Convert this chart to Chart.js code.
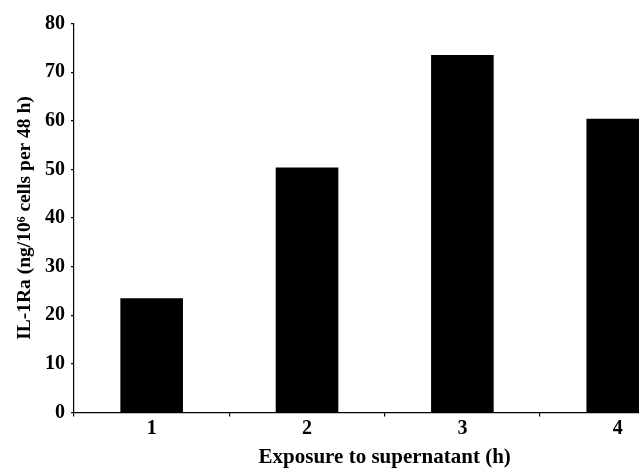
<!DOCTYPE html>
<html>
<head>
<meta charset="utf-8">
<script src="https://cdn.jsdelivr.net/npm/chart.js@4"></script>
<style>
  html, body { margin: 0; padding: 0; background: #fff; overflow: hidden; }
  #chart { display: block; }
</style>
</head>
<body>
<canvas id="chart" width="700" height="470"></canvas>
<script>
// data
const hours = ['1', '2', '3', '4'];
const il1ra = [23.5, 50.4, 73.5, 60.4];
const yTicks = [0, 10, 20, 30, 40, 50, 60, 70, 80];

const serif = "'Liberation Serif', 'Times New Roman', serif";

document.addEventListener('DOMContentLoaded', function() {
    const ctx = document.getElementById('chart');
    new Chart(ctx, {
        type: 'bar',
        data: {
            labels: hours,
            datasets: [{
                data: il1ra,
                backgroundColor: '#000',
                borderWidth: 0,
                barPercentage: 0.403,
                categoryPercentage: 1
            }]
        },
        options: {
            responsive: false,
            animation: false,
            layout: { padding: { top: 23.5, right: 4.6, left: 0, bottom: 0 } },
            plugins: { legend: { display: false }, tooltip: { enabled: false } },
            scales: {
                x: {
                    grid: { drawOnChartArea: false, drawTicks: true, tickLength: 4, color: '#000', lineWidth: 1.2 },
                    border: { display: true, color: '#000', width: 1.2 },
                    ticks: { color: '#000', padding: 0, font: { family: serif, size: 20, weight: 'bold' } },
                    title: {
                        display: true, text: 'Exposure to supernatant (h)', color: '#000',
                        padding: { top: 2, bottom: 0 },
                        font: { family: serif, size: 21, weight: 'bold' }
                    },
                    afterFit: function(scale) { scale.height = 57.5; }
                },
                y: {
                    min: 0, max: 80,
                    afterBuildTicks: function(scale) { scale.ticks = yTicks.map(v => ({ value: v })); },
                    grid: { drawOnChartArea: false, drawTicks: true, tickLength: 3, color: '#000', lineWidth: 1.2 },
                    border: { display: true, color: '#000', width: 1.2 },
                    ticks: { color: '#000', padding: 6, font: { family: serif, size: 20, weight: 'bold' } },
                    title: {
                        display: true, text: 'IL-1Ra (ng/10\u2076 cells per 48 h)', color: '#000',
                        padding: { top: 13, bottom: 0 },
                        font: { family: serif, size: 19.5, weight: 'bold' }
                    },
                    afterFit: function(scale) { scale.width = 74; }
                }
            }
        }
    });
});
</script>
</body>
</html>
